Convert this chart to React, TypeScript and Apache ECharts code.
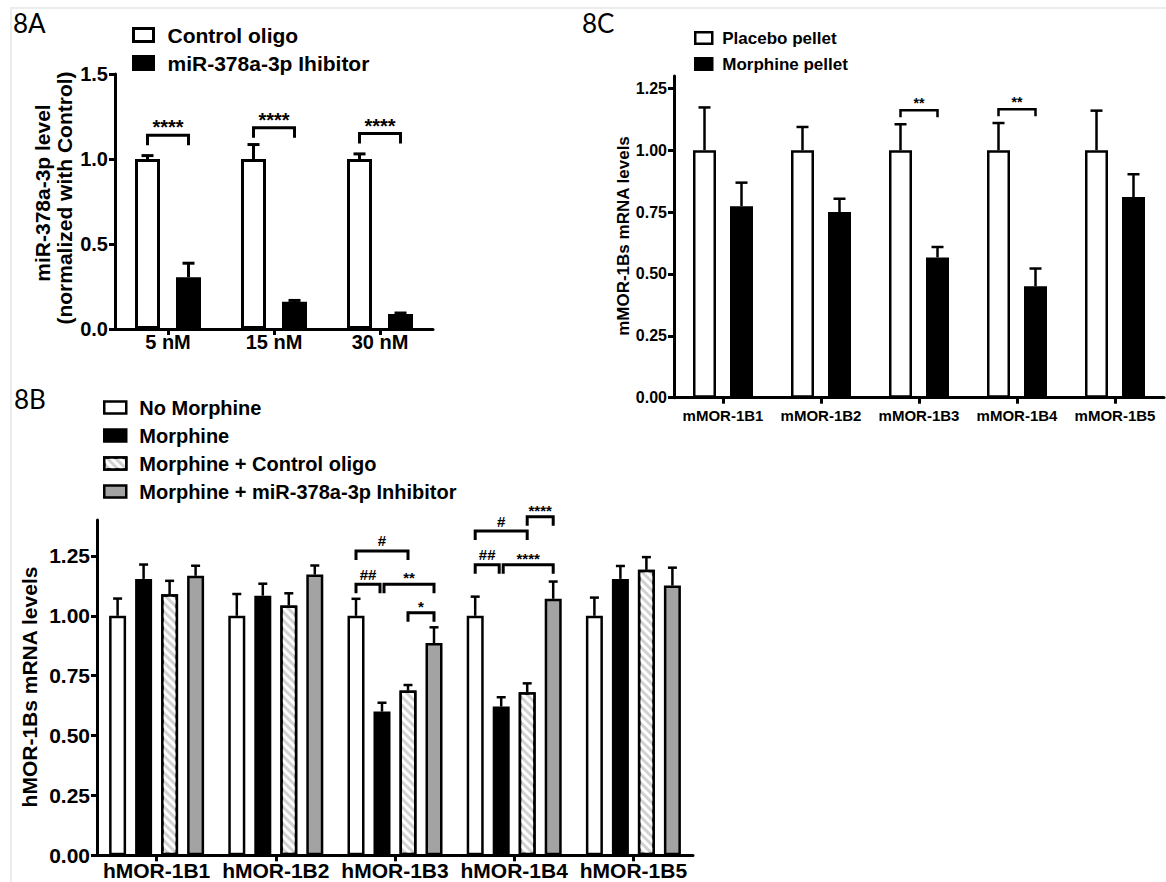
import React, { useEffect, useRef } from 'react';
import * as echarts from 'echarts';

const FONT = '"Liberation Sans", Arial, Helvetica, sans-serif';
const LABEL_FONT = 'Lato, "Open Sans", sans-serif';

// ---------- Panel 8A ----------
const aCategories = ['5 nM', '15 nM', '30 nM'];
const aNames = ['Control oligo', 'miR-378a-3p Ihibitor'];
const aControlMean = [1.0, 1.0, 1.0];
const aControlSd = [0.02, 0.085, 0.03];
const aInhibitorMean = [0.305, 0.16, 0.088];
const aInhibitorSd = [0.082, 0.008, 0.006];
const aYTicks = [0, 0.5, 1.0, 1.5];
// [category, fromBar, toBar, yValue, label]
const aBrackets: [number, number, number, number, string][] = [
  [0, 0, 1, 1.14, '****'],
  [1, 0, 1, 1.184, '****'],
  [2, 0, 1, 1.15, '****'],
];

// ---------- Panel 8C ----------
const cCategories = ['mMOR-1B1', 'mMOR-1B2', 'mMOR-1B3', 'mMOR-1B4', 'mMOR-1B5'];
const cNames = ['Placebo pellet', 'Morphine pellet'];
const cPlaceboMean = [1.0, 1.0, 1.0, 1.0, 1.0];
const cPlaceboSd = [0.173, 0.094, 0.105, 0.11, 0.16];
const cMorphineMean = [0.774, 0.75, 0.567, 0.45, 0.811];
const cMorphineSd = [0.095, 0.054, 0.042, 0.072, 0.092];
const cYTicks = [0, 0.25, 0.5, 0.75, 1.0, 1.25];
const cBrackets: [number, number, number, number, string][] = [
  [2, 0, 1, 1.162, '**'],
  [3, 0, 1, 1.166, '**'],
];

// ---------- Panel 8B ----------
const bCategories = ['hMOR-1B1', 'hMOR-1B2', 'hMOR-1B3', 'hMOR-1B4', 'hMOR-1B5'];
const bNames = ['No Morphine', 'Morphine', 'Morphine + Control oligo', 'Morphine + miR-378a-3p Inhibitor'];
const bNoMorphineMean = [1.0, 1.0, 1.0, 1.0, 1.0];
const bNoMorphineSd = [0.072, 0.091, 0.071, 0.08, 0.076];
const bMorphineMean = [1.154, 1.084, 0.6, 0.621, 1.154];
const bMorphineSd = [0.06, 0.05, 0.037, 0.039, 0.054];
const bControlMean = [1.09, 1.043, 0.688, 0.681, 1.192];
const bControlSd = [0.056, 0.051, 0.023, 0.037, 0.053];
const bInhibitorMean = [1.167, 1.172, 0.886, 1.071, 1.126];
const bInhibitorSd = [0.042, 0.038, 0.066, 0.072, 0.075];
const bYTicks = [0, 0.25, 0.5, 0.75, 1.0, 1.25];
const bBrackets: [number, number, number, number, string][] = [
  [2, 0, 2, 1.271, '#'],
  [2, 0, 1, 1.132, '##'],
  [2, 1, 3, 1.132, '**'],
  [2, 2, 3, 1.013, '*'],
  [3, 0, 2, 1.354, '#'],
  [3, 2, 3, 1.414, '****'],
  [3, 0, 1, 1.213, '##'],
  [3, 1, 3, 1.213, '****'],
];

const WHITE = { color: '#ffffff' };
const BLACK = { color: '#000000' };
const HATCH = {
  color: '#d2d2d2',
  decal: {
    symbol: 'rect',
    symbolSize: 1,
    color: '#ffffff',
    dashArrayX: [1, 0],
    dashArrayY: [2.5, 3],
    rotation: Math.PI / 4,
  },
};
const GRAY = { color: '#a3a3a3' };

type Panel = {
  idx: number;
  names: string[];
  means: number[][];
  sds: number[][];
  styles: any[];
  bw: number;
  gap: number;
  border: number;
  capW: number;
  errW: number;
  brackets: [number, number, number, number, string][];
  leg: number;
  bracketW: number;
  sigFont: number;
  glyphGap: number;
};

const panels: Panel[] = [
  {
    idx: 0, names: aNames, means: [aControlMean, aInhibitorMean], sds: [aControlSd, aInhibitorSd],
    styles: [WHITE, BLACK], bw: 25, gap: 16, border: 3, capW: 12, errW: 3,
    brackets: aBrackets, leg: 10, bracketW: 3, sigFont: 20, glyphGap: 12.5,
  },
  {
    idx: 1, names: cNames, means: [cPlaceboMean, cMorphineMean], sds: [cPlaceboSd, cMorphineSd],
    styles: [WHITE, BLACK], bw: 23, gap: 14, border: 2.5, capW: 12, errW: 2.5,
    brackets: cBrackets, leg: 7, bracketW: 2.5, sigFont: 14, glyphGap: 10,
  },
  {
    idx: 2, names: bNames,
    means: [bNoMorphineMean, bMorphineMean, bControlMean, bInhibitorMean],
    sds: [bNoMorphineSd, bMorphineSd, bControlSd, bInhibitorSd],
    styles: [WHITE, BLACK, HATCH, GRAY], bw: 17, gap: 9, border: 2.5, capW: 9, errW: 2.5,
    brackets: bBrackets, leg: 9, bracketW: 3, sigFont: 15, glyphGap: 10,
  },
];

function barOffset(p: Panel, i: number) {
  const n = p.names.length;
  const total = n * p.bw + (n - 1) * p.gap;
  return -total / 2 + i * (p.bw + p.gap) + p.bw / 2;
}

function buildSeries() {
  const series: any[] = [];
  panels.forEach((p) => {
    p.names.forEach((name, i) => {
      series.push({
        type: 'bar',
        name,
        xAxisIndex: p.idx,
        yAxisIndex: p.idx,
        data: p.means[i],
        barWidth: p.bw,
        barGap: `${(p.gap / p.bw) * 100}%`,
        itemStyle: { ...p.styles[i], borderColor: '#000', borderWidth: p.border },
        emphasis: { disabled: true },
        silent: true,
        z: 2,
      });
    });
    const errData: number[][] = [];
    p.means.forEach((arr, s) => arr.forEach((m, c) => errData.push([c, s, m, p.sds[s][c]])));
    series.push({
      type: 'custom',
      xAxisIndex: p.idx,
      yAxisIndex: p.idx,
      clip: false,
      silent: true,
      z: 3,
      encode: { x: 0, y: 2 },
      data: errData,
      renderItem: (_params: any, api: any) => {
        const c = api.value(0);
        const s = api.value(1);
        const m = api.value(2);
        const sd = api.value(3);
        const p0 = api.coord([c, m]);
        const p1 = api.coord([c, m + sd]);
        const x = p0[0] + barOffset(p, s);
        return {
          type: 'group',
          children: [
            { type: 'line', shape: { x1: x, y1: p0[1], x2: x, y2: p1[1] }, style: { stroke: '#000', lineWidth: p.errW } },
            { type: 'line', shape: { x1: x - p.capW / 2, y1: p1[1], x2: x + p.capW / 2, y2: p1[1] }, style: { stroke: '#000', lineWidth: p.errW } },
          ],
        };
      },
    });
    series.push({
      type: 'custom',
      xAxisIndex: p.idx,
      yAxisIndex: p.idx,
      clip: false,
      silent: true,
      z: 4,
      encode: { x: 0, y: 3 },
      data: p.brackets.map((b) => [b[0], b[1], b[2], b[3]]),
      renderItem: (params: any, api: any) => {
        const k = params.dataIndex;
        const [c, f, t, yv, label] = p.brackets[k];
        const pc = api.coord([c, yv]);
        let x1 = pc[0] + barOffset(p, f);
        let x2 = pc[0] + barOffset(p, t);
        const shared = (bar: number, end: 'from' | 'to') =>
          p.brackets.some((b, j) => j !== k && b[0] === c && b[3] === yv && (end === 'from' ? b[2] === bar : b[1] === bar));
        if (shared(f, 'from')) x1 += 2;
        if (shared(t, 'to')) x2 -= 2;
        const y = pc[1];
        const isStar = label.indexOf('*') >= 0;
        return {
          type: 'group',
          children: [
            {
              type: 'polyline',
              shape: { points: [[x1, y + p.leg], [x1, y], [x2, y], [x2, y + p.leg]] },
              style: { stroke: '#000', lineWidth: p.bracketW, fill: null },
            },
            {
              type: 'text',
              x: (x1 + x2) / 2,
              y: y - p.glyphGap + (isStar ? 0.23 * p.sigFont : 0),
              style: {
                text: label,
                fontSize: p.sigFont,
                fontWeight: 'bold',
                fontFamily: FONT,
                fill: '#000',
                align: 'center',
                verticalAlign: 'middle',
              },
            },
          ],
        };
      },
    });
  });
  return series;
}

function xAxisCfg(grid: number, data: string[], fontSize: number, margin: number) {
  return {
    gridIndex: grid,
    type: 'category',
    data,
    axisLine: { show: true, lineStyle: { color: '#000', width: 3 } },
    axisTick: { show: true, alignWithLabel: true, length: 6, lineStyle: { color: '#000', width: 3 } },
    axisLabel: { color: '#000', fontSize, fontWeight: 'bold', fontFamily: FONT, margin, interval: 0 },
    splitLine: { show: false },
  };
}

function yAxisCfg(grid: number, max: number, ticks: number[], digits: number, fontSize: number, margin: number) {
  return {
    gridIndex: grid,
    type: 'value',
    min: 0,
    max,
    axisLine: { show: true, lineStyle: { color: '#000', width: 3 } },
    axisTick: { show: true, length: 6, customValues: ticks, lineStyle: { color: '#000', width: 3 } },
    axisLabel: {
      color: '#000',
      fontSize,
      fontWeight: 'bold',
      fontFamily: FONT,
      margin,
      customValues: ticks,
      formatter: (v: number) => v.toFixed(digits),
    },
    splitLine: { show: false },
  };
}

function legendCfg(data: string[], left: number, top: number, w: number, h: number, gap: number, fs: number, pad: number, bw: number) {
  return {
    data,
    orient: 'vertical',
    left,
    top,
    padding: 0,
    icon: 'rect',
    itemWidth: w,
    itemHeight: h,
    itemGap: gap,
    selectedMode: false,
    itemStyle: { borderWidth: bw, borderColor: '#000' },
    textStyle: { color: '#000', fontSize: fs, fontWeight: 'bold', fontFamily: FONT, padding: [0, 0, 0, pad] },
  };
}

function buildOption() {
  const txt = (text: string, x: number, y: number, fs: number, extra: any = {}) => ({
    type: 'text',
    x,
    y,
    silent: true,
    ...extra,
    style: {
      text,
      fontSize: fs,
      fontFamily: extra.family || FONT,
      fontWeight: extra.weight || 'bold',
      fill: '#000',
      align: extra.align || 'center',
      verticalAlign: 'middle',
    },
  });
  return {
    animation: false,
    backgroundColor: '#ffffff',
    grid: [
      { left: 115, top: 74, width: 318, height: 255, outerBoundsMode: 'none', containLabel: false },
      { left: 674, top: 76, width: 490, height: 321.7, outerBoundsMode: 'none', containLabel: false },
      { left: 97, top: 520, width: 596, height: 335.3, outerBoundsMode: 'none', containLabel: false },
    ],
    xAxis: [
      xAxisCfg(0, aCategories, 20, 3),
      xAxisCfg(1, cCategories, 15, 10),
      xAxisCfg(2, bCategories, 21, 5),
    ],
    yAxis: [
      yAxisCfg(0, 1.5, aYTicks, 1, 20, 7),
      yAxisCfg(1, 1.3, cYTicks, 2, 16, 7),
      yAxisCfg(2, 1.4, bYTicks, 2, 21, 7),
    ],
    legend: [
      legendCfg(aNames, 132, 24.5, 20, 13, 7, 21, 9, 3),
      legendCfg(cNames, 694, 29.5, 17, 11.5, 9, 17, 5, 2.5),
      legendCfg(bNames, 103, 397.5, 22, 12, 8, 20, 8, 2.5),
    ],
    graphic: [
      { type: 'line', silent: true, shape: { x1: 10, y1: 8, x2: 1166, y2: 8 }, style: { stroke: '#ececec', lineWidth: 2 } },
      { type: 'line', silent: true, shape: { x1: 11, y1: 8, x2: 11, y2: 882 }, style: { stroke: '#ececec', lineWidth: 2 } },
      txt('8A', 13, 23, 26, { family: LABEL_FONT, weight: 'normal', align: 'left' }),
      txt('8C', 582, 23, 26, { family: LABEL_FONT, weight: 'normal', align: 'left' }),
      txt('8B', 14, 399, 26, { family: LABEL_FONT, weight: 'normal', align: 'left' }),
      txt('miR-378a-3p level', 42, 193, 21, { rotation: Math.PI / 2 }),
      txt('(normalized with Control)', 64, 198, 21, { rotation: Math.PI / 2 }),
      txt('mMOR-1Bs mRNA levels', 623, 236, 17, { rotation: Math.PI / 2 }),
      txt('hMOR-1Bs mRNA levels', 29, 687, 21, { rotation: Math.PI / 2 }),
    ],
    series: buildSeries(),
  };
}

export default function App() {
  const ref = useRef<HTMLDivElement>(null);
  useEffect(() => {
    if (!ref.current) return;
    const chart = echarts.init(ref.current, undefined, { renderer: 'svg' });
    chart.setOption(buildOption() as any);
    return () => chart.dispose();
  }, []);
  return (
    <div
      ref={ref}
      style={{ position: 'absolute', left: 0, top: 0, width: 1166, height: 882, background: '#fff' }}
    />
  );
}
